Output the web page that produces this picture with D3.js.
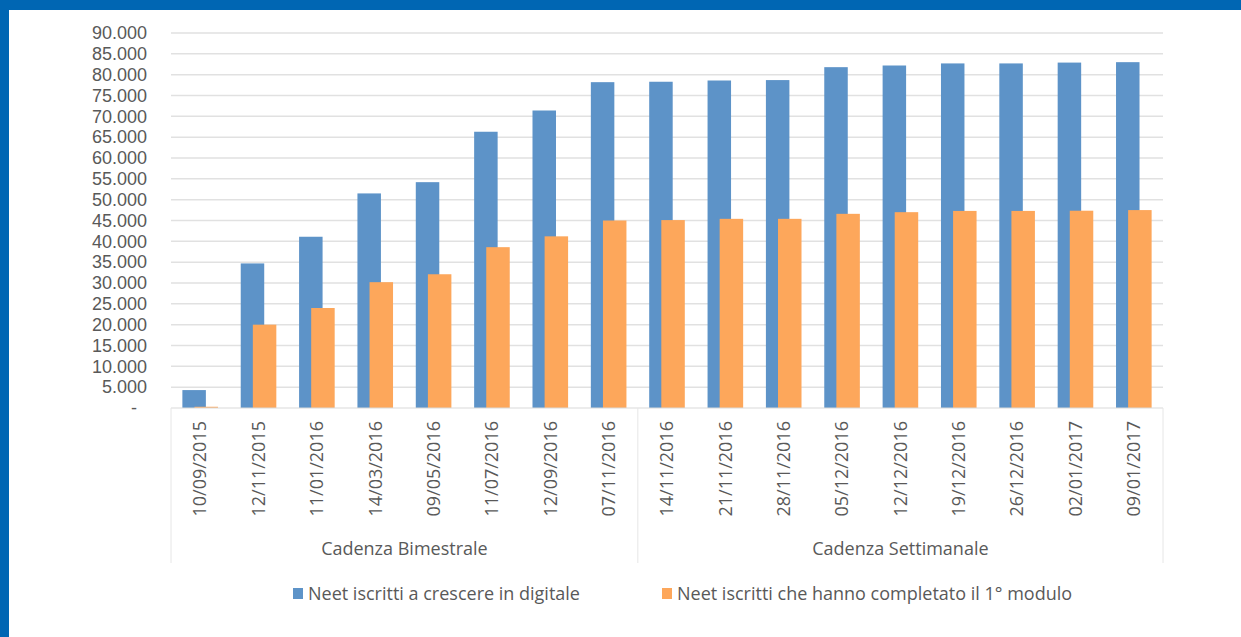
<!DOCTYPE html>
<html>
<head>
<meta charset="utf-8">
<script src="https://cdn.jsdelivr.net/npm/d3@7"></script>
<style>
  body { margin: 0; background: #fff; }
  svg { display: block; }
  text { font-family: "Open Sans", sans-serif; fill: #595959; }
  .ylab { font-family: "Liberation Sans", sans-serif; }
</style>
</head>
<body>
<div class="chart"></div>
<script>
const dates = ['10/09/2015','12/11/2015','11/01/2016','14/03/2016','09/05/2016','11/07/2016','12/09/2016','07/11/2016',
  '14/11/2016','21/11/2016','28/11/2016','05/12/2016','12/12/2016','19/12/2016','26/12/2016','02/01/2017','09/01/2017']

const iscritti = [4300,34700,41100,51500,54200,66300,71400,78200,78300,78600,78700,81800,82200,82700,82700,82900,83000]
const completato = [300,20000,24000,30200,32100,38600,41200,45000,45100,45400,45400,46600,47000,47300,47300,47350,47500]

const groups = [
  {name:'Cadenza Bimestrale', from:0, to:8},
  {name:'Cadenza Settimanale', from:8, to:17}
]

const seriesNames = ['Neet iscritti a crescere in digitale','Neet iscritti che hanno completato il 1° modulo']
const colours = ['#5d93c8','#fda75b']

const width = 1241, height = 637
const plot = {left:171, right:1163, top:33, bottom:408}

const svg = d3.select('.chart').append('svg')
  .attr('width', width)
  .attr('height', height)

// blue frame (top + left)
svg.append('rect').attr('x',0).attr('y',0).attr('width',width).attr('height',10).attr('fill','#0066b3')
svg.append('rect').attr('x',0).attr('y',0).attr('width',9).attr('height',height).attr('fill','#0066b3')

const x = d3.scaleBand()
  .domain(d3.range(dates.length))
  .range([plot.left, plot.right])

const y = d3.scaleLinear()
  .domain([0,90000])
  .range([plot.bottom, plot.top])

const it = d3.formatLocale({decimal:',', thousands:'.', grouping:[3], currency:['','']})
const fmt = it.format(',')

const ticks = d3.range(0, 90001, 5000)

// gridlines
svg.append('g').selectAll('line')
  .data(ticks.filter(d => d > 0))
  .enter().append('line')
  .attr('x1', plot.left).attr('x2', plot.right)
  .attr('y1', d => y(d)).attr('y2', d => y(d))
  .attr('stroke','#e1e1e1').attr('stroke-width',1.5)

// y labels
svg.append('g').selectAll('text')
  .data(ticks)
  .enter().append('text')
  .attr('class','ylab')
  .attr('x', d => d === 0 ? 137 : 147)
  .attr('y', d => y(d))
  .attr('dy','0.35em')
  .attr('text-anchor','end')
  .style('font-size','18px')
  .text(d => d === 0 ? '-' : fmt(d))

// bars
const bw = x.bandwidth()
const groupW = bw * 0.61
const barW = groupW * 0.66
const step = groupW - barW

const allSeries = [iscritti, completato]
allSeries.forEach((vals, s) => {
  svg.append('g').selectAll('rect')
    .data(vals)
    .enter().append('rect')
    .attr('x', (d,i) => x(i) + (bw - groupW)/2 + s*step)
    .attr('width', barW)
    .attr('y', d => y(d))
    .attr('height', d => y(0) - y(d))
    .attr('fill', colours[s])
})

// category axis
const axis = svg.append('g')
axis.append('line')
  .attr('x1', plot.left).attr('x2', plot.right)
  .attr('y1', y(0)).attr('y2', y(0))
  .attr('stroke','#d9d9d9').attr('stroke-width',1)

const dividers = [0, groups[0].to, dates.length]
axis.selectAll('line.div')
  .data(dividers)
  .enter().append('line')
  .attr('class','div')
  .attr('x1', d => d === dates.length ? plot.right : x(d))
  .attr('x2', d => d === dates.length ? plot.right : x(d))
  .attr('y1', y(0)).attr('y2', 563)
  .attr('stroke','#e6e6e6').attr('stroke-width',1)

axis.selectAll('text.date')
  .data(dates)
  .enter().append('text')
  .attr('class','date')
  .attr('transform', (d,i) => `translate(${x(i) + bw/2},421) rotate(-90)`)
  .attr('dy','0.35em')
  .attr('text-anchor','end')
  .style('font-size','18px')
  .text(d => d)

axis.selectAll('text.group')
  .data(groups)
  .enter().append('text')
  .attr('class','group')
  .attr('x', d => (x(d.from) + (d.to === dates.length ? plot.right : x(d.to))) / 2)
  .attr('y', 555)
  .attr('text-anchor','middle')
  .style('font-size','18px')
  .text(d => d.name)

// legend
const legendX = [293, 662]
const legend = svg.append('g')
seriesNames.forEach((name, i) => {
  legend.append('rect')
    .attr('x', legendX[i]).attr('y', 588)
    .attr('width', 10).attr('height', 11)
    .attr('fill', colours[i])
  legend.append('text')
    .attr('x', legendX[i] + 15).attr('y', 600)
    .style('font-size','18px')
    .text(name)
})
</script>
</body>
</html>
